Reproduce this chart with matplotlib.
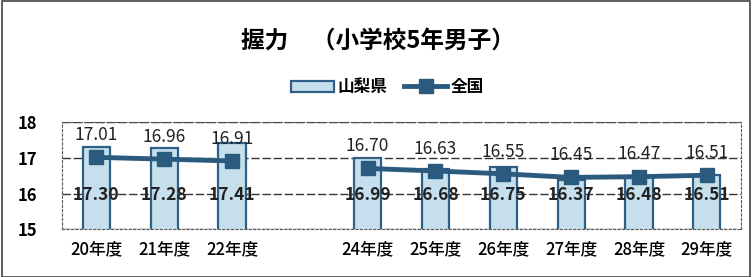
import numpy as np
import matplotlib.pyplot as plt
from matplotlib.patches import Rectangle

plt.rcParams['font.family'] = ['Noto Sans CJK JP', 'DejaVu Sans']

categories = ["20年度", "21年度", "22年度", "", "24年度", "25年度", "26年度", "27年度", "28年度", "29年度"]
yamanashi = [17.30, 17.28, 17.41, np.nan, 16.99, 16.68, 16.75, 16.37, 16.48, 16.51]
zenkoku = [17.01, 16.96, 16.91, np.nan, 16.70, 16.63, 16.55, 16.45, 16.47, 16.51]

fig = plt.figure(figsize=(7.52, 2.77), dpi=100)
ax = fig.add_axes([0.083, 0.172, 0.902, 0.388])

x = np.arange(len(categories))
bars = ax.bar(x, yamanashi, width=0.40, bottom=0, color="#c5e0ec",
              edgecolor="#2f5f86", linewidth=1.6, label="山梨県", zorder=2)
line, = ax.plot(x, zenkoku, color="#2b5a7f", linewidth=3.5, marker="s", markersize=10,
                label="全国", zorder=3)

for xi, v in zip(x, yamanashi):
    if not np.isnan(v):
        ax.text(xi, 15.95, f"{v:.2f}", ha="center", va="center", fontsize=12.5,
                fontweight="bold", color="#222222", zorder=4)
for xi, v in zip(x, zenkoku):
    if not np.isnan(v):
        ax.text(xi, v + 0.62, f"{v:.2f}", ha="center", va="center", fontsize=12.5,
                color="#222222", zorder=4)

ax.set_ylim(15, 18)
ax.set_xlim(-0.5, len(categories) - 0.5)
ax.set_yticks([15, 16, 17, 18])
ax.set_xticks(x)
ax.set_xticklabels(categories, fontsize=12, fontweight="medium")
ax.tick_params(axis="y", labelsize=12, length=0, pad=18)
ax.tick_params(axis="x", length=0, pad=8)
for lab in ax.get_yticklabels():
    lab.set_fontweight("bold")
ax.grid(axis="y", color="#333333", linestyle=(0, (6, 2)), linewidth=1.0, zorder=0)
for s in ax.spines.values():
    s.set_linestyle((0, (2, 2)))
    s.set_color("#555555")
    s.set_linewidth(0.8)

fig.text(0.503, 0.855, "握力　（小学校5年男子）", ha="center", va="center",
         fontsize=17, fontweight="bold")
fig.legend(handles=[bars, line], loc="center", bbox_to_anchor=(0.515, 0.685), ncol=2,
           frameon=False, prop={"size": 12, "weight": "bold"},
           handlelength=2.6, columnspacing=1.0, handletextpad=0.2)

fig.patches.append(Rectangle((0.003, 0.0), 0.994, 0.995, transform=fig.transFigure,
                             fill=False, edgecolor="#444444", linewidth=1.2))

fig.savefig("out.png", dpi=100)
